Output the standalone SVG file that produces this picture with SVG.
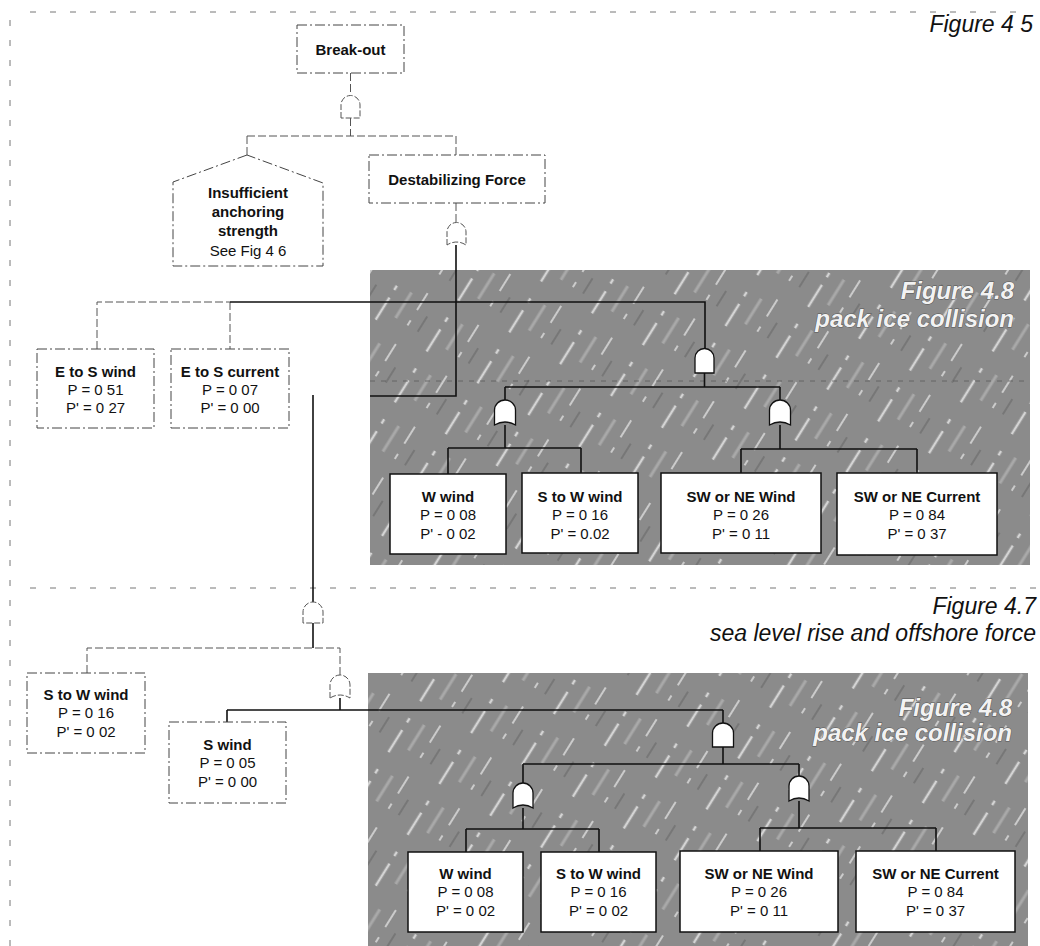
<svg xmlns="http://www.w3.org/2000/svg" width="1040" height="946" viewBox="0 0 1040 946">
<style>
text{font-family:"Liberation Sans",Arial,sans-serif;fill:#111}
.t{font-size:15px;font-weight:bold;text-anchor:middle}
.v{font-size:15px;text-anchor:middle}
.box{fill:#fff;stroke:#111;stroke-width:1.5}
.dbox{fill:#fff;stroke:#444;stroke-width:1;stroke-dasharray:10 3 2 3}
.gate{fill:#fff;stroke:#111;stroke-width:1.3}
.fgate{fill:#fff;stroke:#555;stroke-width:1;stroke-dasharray:6 2}
.ln{stroke:#111;stroke-width:1.6;fill:none}
.fl{stroke:#555;stroke-width:1;fill:none;stroke-dasharray:8 3}
.page{stroke:#777;stroke-width:1;fill:none;stroke-dasharray:6 14}
.fig{font-size:23px;font-style:italic;text-anchor:end}
.fig8{font-size:24px;font-style:italic;font-weight:bold;text-anchor:end;fill:#f2f2f2;stroke:#555;stroke-width:1;paint-order:stroke}
</style>
<defs>
<pattern id="ice" width="60" height="60" patternUnits="userSpaceOnUse" patternTransform="rotate(-58)">
<rect width="60" height="60" fill="#8b8b8b"/>
<line x1="0" y1="8" x2="60" y2="8" stroke="#d4d4d4" stroke-width="2.5" stroke-dasharray="14 9 5 20"/>
<line x1="0" y1="24" x2="60" y2="24" stroke="#a9a9a9" stroke-width="3" stroke-dasharray="30 30"/>
<line x1="0" y1="38" x2="60" y2="38" stroke="#e0e0e0" stroke-width="1.5" stroke-dasharray="6 12 20 22"/>
<line x1="0" y1="50" x2="60" y2="50" stroke="#777" stroke-width="2" stroke-dasharray="18 42"/>
</pattern>
</defs>

<rect width="1040" height="946" fill="#fff"/>

<g id="page-marks">
<line class="page" x1="30" y1="12" x2="1030" y2="12"/>
<line class="page" x1="10" y1="20" x2="10" y2="946" stroke-dasharray="4 10"/>
<line class="page" x1="30" y1="588" x2="1036" y2="588"/>
</g>

<g id="shade-upper">
<rect x="370" y="270" width="660" height="295" fill="url(#ice)"/>
<line x1="370" y1="381" x2="1028" y2="381" stroke="#555" stroke-width="1" stroke-dasharray="5 6" opacity="0.7"/>
</g>
<g id="shade-lower">
<rect x="368" y="673" width="660" height="273" fill="url(#ice)"/>
</g>

<g id="labels">
<text class="fig" x="1033" y="32">Figure 4 5</text>
<text class="fig" x="1036" y="614">Figure 4.7</text>
<text class="fig" x="1036" y="641">sea level rise and offshore force</text>
<text class="fig8" x="1014" y="299">Figure 4.8</text>
<text class="fig8" x="1014" y="327">pack ice collision</text>
<text class="fig8" x="1012" y="716">Figure 4.8</text>
<text class="fig8" x="1012" y="741">pack ice collision</text>
</g>

<g id="connectors">
<!-- top -->
<path class="fl" d="M350.5 73V95M350.5 118V136M247 136H456M247 136V155M456 136V155"/>
<path class="fl" d="M456 203V222"/>
<path class="ln" d="M456 245V396H370" stroke-width="1.3"/>
<path class="fl" d="M97 349V302H230"/>
<path class="fl" d="M230 302V349"/>
<path class="ln" d="M230 302H705V348"/>
<path class="ln" d="M704.5 373V387M505 387H780M505 387V400M780 387V400"/>
<path class="ln" d="M505 425V448M448 448H581M448 448V474M581 448V473"/>
<path class="ln" d="M780 425V449M741 449H917M741 449V473M917 449V473"/>
<!-- lower -->
<path class="ln" d="M313 395V602" stroke-width="1.2"/>
<path class="ln" d="M313 623V648" stroke-width="1.2"/>
<path class="fl" d="M87 673V648H340V675"/>
<path class="ln" d="M340 698V710M227 710H723M227 710V722M723 710V723" stroke-width="1.4"/>
<path class="ln" d="M723 747V764M523 764H799M523 764V783M799 764V776"/>
<path class="ln" d="M523 808V829M466 829H599M466 829V852M599 829V852"/>
<path class="ln" d="M799 801V828M760 828H936M760 828V851M936 828V851"/>
</g>

<g id="gates">
<path id="g-and-top" class="fgate" d="M341 118V105A9.5 9.5 0 0 1 360 105V118Z"/>
<path id="g-or-destab" class="fgate" d="M447 245V232A9.5 9.5 0 0 1 466 232V245Q456.5 239 447 245Z"/>
<path id="g-and-u1" class="gate" d="M695 373V358A9.5 9.5 0 0 1 714 358V373Z"/>
<path id="g-or-u1" class="gate" d="M494.5 425V410A10.5 10 0 0 1 515.5 410V425Q505 419 494.5 425Z"/>
<path id="g-or-u2" class="gate" d="M769.5 425V410A10.5 10 0 0 1 790.5 410V425Q780 419 769.5 425Z"/>
<path id="g-and-mid" class="fgate" d="M303 623V612A10 10 0 0 1 323 612V623Z"/>
<path id="g-or-mid" class="fgate" d="M330 698V685A10 10 0 0 1 350 685V698Q340 692 330 698Z"/>
<path id="g-and-l1" class="gate" d="M712.5 747V733A10.5 10 0 0 1 733.5 733V747Z"/>
<path id="g-or-l1" class="gate" d="M513 808V793A10 10 0 0 1 533 793V808Q523 802 513 808Z"/>
<path id="g-or-l2" class="gate" d="M789 801V786A10 10 0 0 1 809 786V801Q799 795 789 801Z"/>
</g>

<g id="n-breakout">
<rect class="dbox" x="297" y="25" width="107" height="48"/>
<text class="t" x="350.5" y="55">Break-out</text>
</g>
<g id="n-insufficient">
<path class="dbox" d="M247 155L173 182V266H323V183Z"/>
<text class="t" x="248" y="198">Insufficient</text>
<text class="t" x="248" y="217">anchoring</text>
<text class="t" x="248" y="236">strength</text>
<text class="v" x="248" y="256">See Fig  4 6</text>
</g>
<g id="n-destab">
<rect class="dbox" x="369" y="155" width="176" height="48"/>
<text class="t" x="457" y="185">Destabilizing Force</text>
</g>

<g id="n-es-wind">
<rect class="dbox" x="37" y="349" width="117" height="79"/>
<text class="t" x="95.5" y="377">E to S wind</text>
<text class="v" x="95.5" y="395">P = 0 51</text>
<text class="v" x="95.5" y="413">P' = 0 27</text>
</g>
<g id="n-es-current">
<rect class="dbox" x="171" y="349" width="118" height="79"/>
<text class="t" x="230" y="377">E to S current</text>
<text class="v" x="230" y="395">P = 0 07</text>
<text class="v" x="230" y="413">P' = 0 00</text>
</g>

<g id="n-u-wwind">
<rect class="box" x="390" y="474" width="116" height="80"/>
<text class="t" x="448" y="502">W wind</text>
<text class="v" x="448" y="520">P = 0 08</text>
<text class="v" x="448" y="539">P' - 0 02</text>
</g>
<g id="n-u-stow">
<rect class="box" x="522" y="473" width="116" height="80"/>
<text class="t" x="580" y="502">S to W wind</text>
<text class="v" x="580" y="520">P = 0 16</text>
<text class="v" x="580" y="539">P' = 0.02</text>
</g>
<g id="n-u-swne-wind">
<rect class="box" x="661" y="473" width="160" height="80"/>
<text class="t" x="741" y="502">SW or NE Wind</text>
<text class="v" x="741" y="520">P = 0 26</text>
<text class="v" x="741" y="539">P' = 0 11</text>
</g>
<g id="n-u-swne-current">
<rect class="box" x="837" y="473" width="160" height="82"/>
<text class="t" x="917" y="502">SW or NE Current</text>
<text class="v" x="917" y="520">P = 0 84</text>
<text class="v" x="917" y="539">P' = 0 37</text>
</g>

<g id="n-stow-left">
<rect class="dbox" x="27" y="673" width="118" height="80"/>
<text class="t" x="86" y="700">S to W wind</text>
<text class="v" x="86" y="718">P = 0 16</text>
<text class="v" x="86" y="737">P' = 0 02</text>
</g>
<g id="n-swind">
<rect class="dbox" x="169" y="722" width="117" height="81"/>
<text class="t" x="227.5" y="750">S wind</text>
<text class="v" x="227.5" y="768">P = 0 05</text>
<text class="v" x="227.5" y="787">P' = 0 00</text>
</g>

<g id="n-l-wwind">
<rect class="box" x="408" y="852" width="115" height="80"/>
<text class="t" x="465.5" y="879">W wind</text>
<text class="v" x="465.5" y="897">P = 0 08</text>
<text class="v" x="465.5" y="916">P' = 0 02</text>
</g>
<g id="n-l-stow">
<rect class="box" x="541" y="852" width="115" height="80"/>
<text class="t" x="598.5" y="879">S to W wind</text>
<text class="v" x="598.5" y="897">P = 0 16</text>
<text class="v" x="598.5" y="916">P' = 0 02</text>
</g>
<g id="n-l-swne-wind">
<rect class="box" x="680" y="851" width="158" height="81"/>
<text class="t" x="759" y="879">SW or NE Wind</text>
<text class="v" x="759" y="897">P = 0 26</text>
<text class="v" x="759" y="916">P' = 0 11</text>
</g>
<g id="n-l-swne-current">
<rect class="box" x="856" y="851" width="159" height="81"/>
<text class="t" x="935.5" y="879">SW or NE Current</text>
<text class="v" x="935.5" y="897">P = 0 84</text>
<text class="v" x="935.5" y="916">P' = 0 37</text>
</g>
</svg>
